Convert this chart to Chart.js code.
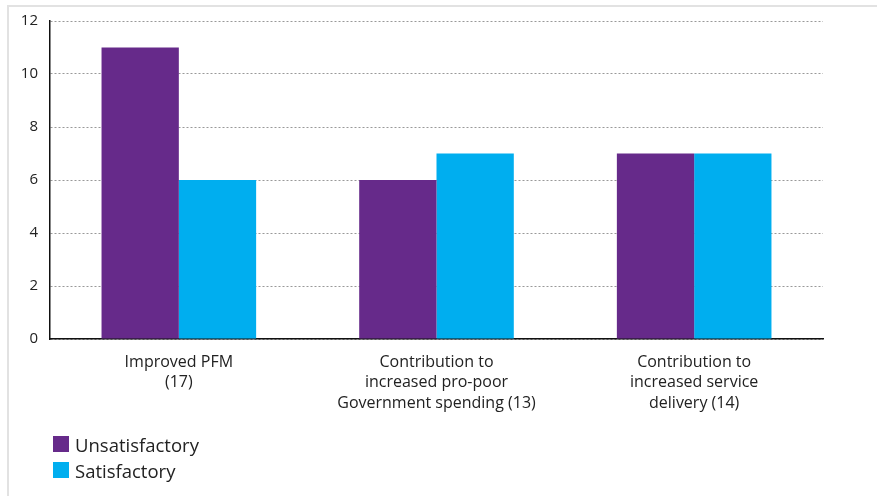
<!DOCTYPE html>
<html>
<head>
<meta charset="utf-8">
<script src="https://cdn.jsdelivr.net/npm/chart.js@4"></script>
<style>
    body { margin: 0; background: #fff; }
    #wrap { position: relative; width: 877px; height: 496px; overflow: hidden; }
    #frame { position: absolute; left: 7px; top: 5px; width: 880px; height: 500px;
             border-top: 2px solid #e2e2e2; border-left: 2px solid #e2e2e2; }
    #chart { position: absolute; left: 0; top: 0; }
    #legend { position: absolute; left: 53px; top: 431px; font-family: "Open Sans", sans-serif;
              font-size: 18.5px; color: #222; }
    #legend div { height: 26px; display: flex; align-items: center; }
    #legend span.box { display: inline-block; width: 16px; height: 16px; margin-right: 6px; }
</style>
</head>
<body>
<div id="wrap">
    <div id="frame"></div>
    <canvas id="chart" width="877" height="496"></canvas>
    <div id="legend"></div>
</div>
<script>
// Chart data
var categories = [
    ['Improved PFM', '(17)'],
    ['Contribution to', 'increased pro-poor', 'Government spending (13)'],
    ['Contribution to', 'increased service', 'delivery (14)']
];
var unsatisfactory = [11, 6, 7];
var satisfactory = [6, 7, 7];
var yTicks = [0, 2, 4, 6, 8, 10, 12];

var purple = '#662a8a';
var cyan = '#00aeef';

var chart = new Chart(document.getElementById('chart'), {
    type: 'bar',
    data: {
        labels: categories,
        datasets: [
            { label: 'Unsatisfactory', data: unsatisfactory, backgroundColor: purple },
            { label: 'Satisfactory', data: satisfactory, backgroundColor: cyan }
        ]
    },
    options: {
        responsive: false,
        animation: false,
        layout: { padding: { left: 0, right: 54, top: 21, bottom: 0 } },
        plugins: {
            legend: { display: false },
            tooltip: { enabled: false }
        },
        datasets: {
            bar: { categoryPercentage: 0.6, barPercentage: 1.0 }
        },
        scales: {
            x: {
                grid: { display: false },
                border: { display: true, color: '#111', width: 1.5 },
                ticks: {
                    color: '#222',
                    padding: 5,
                    maxRotation: 0,
                    autoSkip: false,
                    font: { family: '"Open Sans", sans-serif', size: 16, lineHeight: 1.28 }
                },
                afterFit: function(scale) { scale.height = 157; }
            },
            y: {
                min: 0,
                max: 12,
                afterBuildTicks: function(scale) {
                    scale.ticks = yTicks.map(function(v) { return { value: v }; });
                },
                grid: { color: '#999', lineWidth: 1, drawTicks: false },
                border: { display: true, color: '#111', width: 1.5, dash: [2, 2] },
                ticks: {
                    color: '#222',
                    padding: 12,
                    font: { family: '"Open Sans", sans-serif', size: 15 }
                },
                afterFit: function(scale) { scale.width = 50; }
            }
        }
    }
});

// Build legend from chart datasets
var legend = document.getElementById('legend');
chart.data.datasets.forEach(function(ds) {
    var row = document.createElement('div');
    var box = document.createElement('span');
    box.className = 'box';
    box.style.background = ds.backgroundColor;
    row.appendChild(box);
    row.appendChild(document.createTextNode(ds.label));
    legend.appendChild(row);
});
</script>
</body>
</html>
